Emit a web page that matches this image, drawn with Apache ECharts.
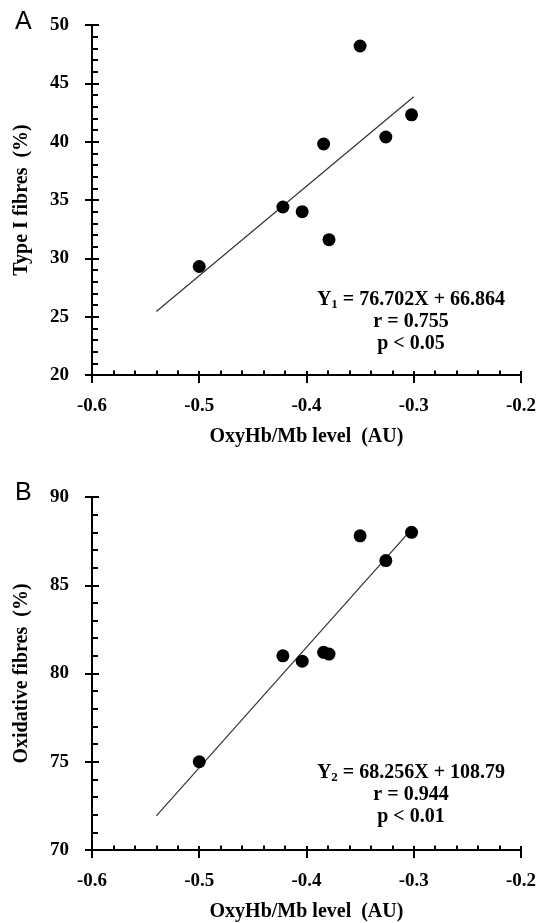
<!DOCTYPE html>
<html><head><meta charset="utf-8">
<script src="https://cdn.jsdelivr.net/npm/echarts@6/dist/echarts.min.js"></script>
<style>html,body{margin:0;padding:0;background:#fff}#c{width:539px;height:923px}</style>
</head><body><div id="c"></div>
<script>
// ---- data ----
const xTickLabels = ['-0.6', '-0.5', '-0.4', '-0.3', '-0.2'];
const yTicksA = [20, 25, 30, 35, 40, 45, 50];
const yTicksB = [70, 75, 80, 85, 90];

const oxyA = [-0.5, -0.422, -0.404, -0.384, -0.379, -0.35, -0.326, -0.302];
const typeI = [29.3, 34.4, 34.0, 39.8, 31.6, 48.2, 40.4, 42.3];
const fitAx = [-0.54, -0.3];
const fitAy = [25.44, 43.85];

const oxyB = [-0.5, -0.422, -0.404, -0.384, -0.379, -0.35, -0.326, -0.302];
const oxid = [75.0, 81.0, 80.7, 81.2, 81.1, 87.8, 86.4, 88.0];
const fitBx = [-0.54, -0.3];
const fitBy = [71.93, 88.31];

const eqA = ['Y', '1', ' = 76.702X + 66.864', 'r = 0.755', 'p < 0.05'];
const eqB = ['Y', '2', ' = 68.256X + 108.79', 'r = 0.944', 'p < 0.01'];

// ---- chart ----
const SERIF = "'Liberation Serif', 'Times New Roman', serif";
const SANS = "'Liberation Sans', Arial, sans-serif";
const black = '#000';
const xMin = parseFloat(xTickLabels[0]), xMax = parseFloat(xTickLabels[xTickLabels.length - 1]);

function mainX(g, name) {
  return {
    gridIndex: g, type: 'value', min: xMin, max: xMax, interval: 0.1, position: 'bottom',
    axisLine: {show: true, onZero: false, lineStyle: {color: black, width: 2}},
    axisTick: {show: true, inside: false, length: 8, lineStyle: {color: black, width: 2}},
    minorTick: {show: false}, splitLine: {show: false},
    axisLabel: {show: true, margin: 22, color: black, fontFamily: SERIF, fontWeight: 'bold', fontSize: 19,
      showMinLabel: true, showMaxLabel: true, formatter: v => v.toFixed(1)},
    name: name, nameLocation: 'middle', nameGap: 52,
    nameTextStyle: {color: black, fontFamily: SERIF, fontWeight: 'bold', fontSize: 20}
  };
}
function overX(g) {
  return {
    gridIndex: g, type: 'value', min: xMin, max: xMax, interval: 0.1, position: 'bottom',
    axisLine: {show: false, onZero: false},
    axisTick: {show: true, inside: true, length: 4, lineStyle: {color: black, width: 2}},
    minorTick: {show: true, splitNumber: 5, length: 4.5, lineStyle: {color: black, width: 2}},
    axisLabel: {show: false}, splitLine: {show: false}
  };
}
function mainY(g, ticks, name) {
  return {
    gridIndex: g, type: 'value', min: ticks[0], max: ticks[ticks.length - 1], interval: 5, position: 'left',
    axisLine: {show: true, onZero: false, lineStyle: {color: black, width: 2}},
    axisTick: {show: true, inside: false, length: 7, lineStyle: {color: black, width: 2}},
    minorTick: {show: false}, splitLine: {show: false},
    axisLabel: {show: true, margin: 23, color: black, fontFamily: SERIF, fontWeight: 'bold', fontSize: 19,
      showMinLabel: true, showMaxLabel: true},
    name: name, nameLocation: 'middle', nameGap: 60, nameRotate: 90,
    nameTextStyle: {color: black, fontFamily: SERIF, fontWeight: 'bold', fontSize: 20}
  };
}
function overY(g, ticks) {
  return {
    gridIndex: g, type: 'value', min: ticks[0], max: ticks[ticks.length - 1], interval: 5, position: 'left',
    axisLine: {show: false, onZero: false},
    axisTick: {show: true, inside: true, length: 7, lineStyle: {color: black, width: 2}},
    minorTick: {show: true, splitNumber: 5, length: 6, lineStyle: {color: black, width: 2}},
    axisLabel: {show: false}, splitLine: {show: false}
  };
}
function zip(a, b) { return a.map((v, i) => [v, b[i]]); }

function eqText(eq, cx, cy) {
  return {
    type: 'text', x: cx, y: cy, z: 10,
    style: {
      text: '{m|' + eq[0] + '}{s|' + eq[1] + '}{m|' + eq[2] + '}\n{m|' + eq[3] + '}\n{m|' + eq[4] + '}',
      align: 'center', verticalAlign: 'middle', fill: black,
      rich: {
        m: {fontFamily: SERIF, fontWeight: 'bold', fontSize: 20, lineHeight: 22, fill: black, verticalAlign: 'middle'},
        s: {fontFamily: SERIF, fontWeight: 'bold', fontSize: 13, lineHeight: 12, fill: black, verticalAlign: 'bottom'}
      }
    }
  };
}

const option = {
  animation: false,
  backgroundColor: '#fff',
  grid: [
    {left: 92, top: 25, width: 432, height: 350, containLabel: false},
    {left: 92, top: 497, width: 432, height: 354, containLabel: false}
  ],
  xAxis: [mainX(0, 'OxyHb/Mb level  (AU)'), overX(0), mainX(1, 'OxyHb/Mb level  (AU)'), overX(1)],
  yAxis: [mainY(0, yTicksA, 'Type I fibres  (%)'), overY(0, yTicksA), mainY(1, yTicksB, 'Oxidative fibres  (%)'), overY(1, yTicksB)],
  series: [
    {type: 'line', xAxisIndex: 0, yAxisIndex: 0, data: zip(fitAx, fitAy), symbol: 'none', z: 1,
      lineStyle: {color: '#333', width: 1.2}},
    {type: 'scatter', xAxisIndex: 0, yAxisIndex: 0, data: zip(oxyA, typeI), symbolSize: 13, z: 2,
      itemStyle: {color: black, opacity: 1}},
    {type: 'line', xAxisIndex: 2, yAxisIndex: 2, data: zip(fitBx, fitBy), symbol: 'none', z: 1,
      lineStyle: {color: '#333', width: 1.2}},
    {type: 'scatter', xAxisIndex: 2, yAxisIndex: 2, data: zip(oxyB, oxid), symbolSize: 13, z: 2,
      itemStyle: {color: black, opacity: 1}}
  ],
  graphic: [
    {type: 'text', x: 15, y: 22, style: {text: 'A', fontFamily: SANS, fontSize: 25, fill: black, verticalAlign: 'middle'}},
    {type: 'text', x: 15, y: 493, style: {text: 'B', fontFamily: SANS, fontSize: 25, fill: black, verticalAlign: 'middle'}},
    eqText(eqA, 411, 322),
    eqText(eqB, 411, 795)
  ]
};
const chart = echarts.init(document.getElementById('c'), null, {renderer: 'canvas'});
chart.setOption(option);
</script>
</body></html>
